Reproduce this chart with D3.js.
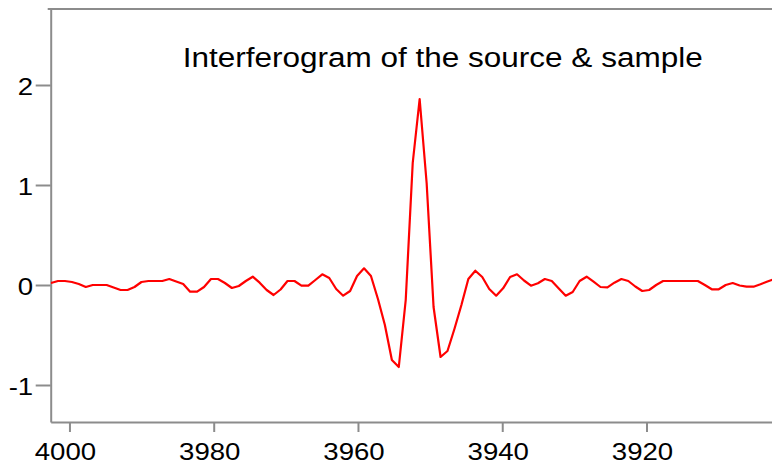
<!DOCTYPE html>
<html>
<head>
<meta charset="utf-8">
<script src="https://cdn.jsdelivr.net/npm/d3@7"></script>
<style>
  body { margin: 0; background: #fff; }
  text { font-family: "Liberation Sans", Arial, sans-serif; }
</style>
</head>
<body>
<div id="chart-area"></div>
<script>
var w = 772;
var h = 464;

// wavenumber (cm-1) of each sample
var wavenumber = [4002.56, 4001.59, 4000.63, 3999.66, 3998.70, 3997.73, 3996.77, 3995.81, 3994.84, 3993.88,
  3992.91, 3991.95, 3990.98, 3990.02, 3989.05, 3988.09, 3987.13, 3986.16, 3985.20, 3984.23,
  3983.27, 3982.30, 3981.34, 3980.38, 3979.41, 3978.45, 3977.48, 3976.52, 3975.55, 3974.59,
  3973.63, 3972.66, 3971.70, 3970.73, 3969.77, 3968.80, 3967.84, 3966.88, 3965.91, 3964.95,
  3963.98, 3963.02, 3962.05, 3961.09, 3960.13, 3959.16, 3958.20, 3957.23, 3956.27, 3955.30,
  3954.34, 3953.38, 3952.41, 3951.45, 3950.48, 3949.52, 3948.55, 3947.59, 3946.63, 3945.66,
  3944.70, 3943.73, 3942.77, 3941.80, 3940.84, 3939.88, 3938.91, 3937.95, 3936.98, 3936.02,
  3935.05, 3934.09, 3933.13, 3932.16, 3931.20, 3930.23, 3929.27, 3928.30, 3927.34, 3926.38,
  3925.41, 3924.45, 3923.48, 3922.52, 3921.55, 3920.59, 3919.63, 3918.66, 3917.70, 3916.73,
  3915.77, 3914.80, 3913.84, 3912.88, 3911.91, 3910.95, 3909.98, 3909.02, 3908.05, 3907.09,
  3906.13, 3905.16, 3904.20, 3903.23, 3902.27];

var intensity = [0.02, 0.04, 0.04, 0.03, 0.01, -0.02, 0.0, 0.0, 0.0, -0.025,
  -0.05, -0.05, -0.02, 0.03, 0.04, 0.04, 0.04, 0.06, 0.035, 0.01,
  -0.067, -0.067, -0.02, 0.06, 0.06, 0.02, -0.03, -0.01, 0.04, 0.083,
  0.023, -0.05, -0.1, -0.045, 0.04, 0.04, -0.007, -0.007, 0.05, 0.107,
  0.07, -0.04, -0.107, -0.06, 0.09, 0.167, 0.09, -0.14, -0.4, -0.75,
  -0.82, -0.15, 1.22, 1.86, 1.02, -0.22, -0.72, -0.66, -0.44, -0.2,
  0.06, 0.143, 0.08, -0.04, -0.107, -0.033, 0.08, 0.107, 0.045, -0.007,
  0.017, 0.06, 0.04, -0.035, -0.107, -0.07, 0.04, 0.083, 0.033, -0.02,
  -0.023, 0.023, 0.06, 0.04, -0.015, -0.06, -0.05, 0.0, 0.04, 0.04,
  0.04, 0.04, 0.04, 0.04, 0.0, -0.043, -0.043, 0.0, 0.02, -0.005,
  -0.017, -0.017, 0.007, 0.035, 0.06];

var xTicks = [4000, 3980, 3960, 3940, 3920];
var yTicks = [-1, 0, 1, 2];
var title = "Interferogram of the source & sample";

var data = wavenumber.map((d, i) => ({x: d, y: intensity[i]}));

var plotLeft = 50.7, plotRight = 772, plotTop = 9, plotBottom = 422;
var axisColor = '#8c8c8c';
var stretch = 1.15; // the reference text is a bit wider than Arial

var svg = d3.select('#chart-area').append('svg')
        .attr('width', w)
        .attr('height', h);

var x = d3.scaleLinear().domain([4002.6, 3902.6]).range([plotLeft, plotRight]);
var y = d3.scaleLinear().domain([-1.37, 2.76]).range([plotBottom, plotTop]);

svg.append('defs').append('clipPath')
    .attr('id', 'plot-clip')
  .append('rect')
    .attr('x', plotLeft)
    .attr('y', plotTop)
    .attr('width', plotRight - plotLeft)
    .attr('height', plotBottom - plotTop);

// top frame line
svg.append('line')
    .attr('x1', plotLeft - 3)
    .attr('x2', plotRight)
    .attr('y1', plotTop)
    .attr('y2', plotTop)
    .attr('stroke', axisColor)
    .attr('stroke-width', 2);

// plain hyphen for negatives, like the original
var fmt = d => String(d);

var xAxis = svg.append('g')
    .attr('transform', 'translate(0,' + plotBottom + ')')
    .call(d3.axisBottom(x).tickValues(xTicks).tickFormat(fmt)
      .tickSize(10).tickPadding(11).tickSizeOuter(0));

var yAxis = svg.append('g')
    .attr('transform', 'translate(' + plotLeft + ',0)')
    .call(d3.axisLeft(y).tickValues(yTicks).tickFormat(fmt)
      .tickSize(15).tickPadding(2).tickSizeOuter(0));

[xAxis, yAxis].forEach(function(ax){
  ax.select('.domain').attr('stroke', axisColor).attr('stroke-width', 2);
  ax.selectAll('.tick line').attr('stroke', axisColor).attr('stroke-width', 2);
  ax.selectAll('.tick text')
    .attr('fill', '#000')
    .attr('font-size', 24)
    .attr('font-family', '"Liberation Sans", Arial, sans-serif');
});
// x labels sit a little left of their ticks in the original
xAxis.selectAll('.tick text')
    .attr('x', -4.5 / stretch)
    .attr('transform', 'scale(' + stretch + ',1)');
yAxis.selectAll('.tick text')
    .attr('x', -17.5 / stretch)
    .attr('dy', '0.38em')
    .attr('transform', 'scale(' + stretch + ',1)');

var line = d3.line()
    .x(d => x(d.x))
    .y(d => y(d.y));

svg.append('path')
    .datum(data)
    .attr('clip-path', 'url(#plot-clip)')
    .attr('fill', 'none')
    .attr('stroke', '#ff0000')
    .attr('stroke-width', 2.2)
    .attr('stroke-linejoin', 'round')
    .attr('d', line);

svg.append('text')
    .attr('x', 182.7)
    .attr('y', 67)
    .attr('font-size', 27)
    .attr('textLength', 520)
    .attr('lengthAdjust', 'spacingAndGlyphs')
    .attr('fill', '#000')
    .text(title);
</script>
</body>
</html>
